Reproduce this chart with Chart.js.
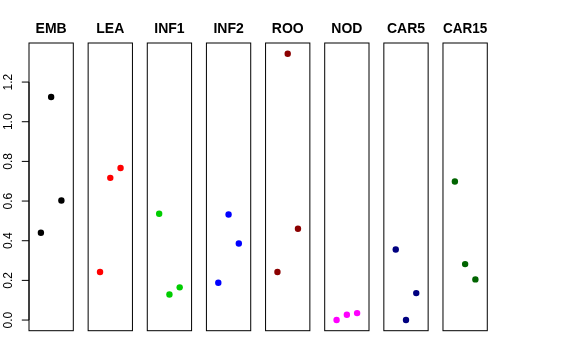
<!DOCTYPE html>
<html>
<head>
<meta charset="utf-8">
<script src="https://cdn.jsdelivr.net/npm/chart.js@4.4.1/dist/chart.umd.min.js"></script>
<style>
  html, body { margin: 0; padding: 0; background: #fff; }
  #wrap { position: relative; width: 576px; height: 360px; overflow: hidden; }
  #wrap canvas { position: absolute; top: 0; }
</style>
</head>
<body>
<div id="wrap"></div>
<script>
// panels and their colours
var categories = ['EMB', 'LEA', 'INF1', 'INF2', 'ROO', 'NOD', 'CAR5', 'CAR15'];
var colors = ['#000000', '#FF0000', '#00CD00', '#0000FF', '#8B0000', '#FF00FF', '#000080', '#006400'];

// three samples per panel, at x = 1, 2, 3
var xPos = [1, 2, 3];
var emb = [0.44, 1.125, 0.603];
var lea = [0.242, 0.717, 0.767];
var inf1 = [0.536, 0.129, 0.165];
var inf2 = [0.188, 0.532, 0.386];
var roo = [0.242, 1.343, 0.46];
var nod = [0.0, 0.027, 0.035];
var car5 = [0.356, 0.0, 0.136];
var car15 = [0.699, 0.282, 0.205];
var values = [emb, lea, inf1, inf2, roo, nod, car5, car15];

var yTicks = [0, 0.2, 0.4, 0.6, 0.8, 1.0, 1.2];
var yTickLabels = ['0.0', '0.2', '0.4', '0.6', '0.8', '1.0', '1.2'];

// layout (pixels)
var W = 576, H = 360;
var panelLeft0 = 29, panelStep = 59.14, panelWidth = 44.3;
var panelTop = 43, panelBottom = 330.7;
var sideMargin = 10;
var fontFam = "'Liberation Sans', Arial, Helvetica, sans-serif";

var boxPlugin = {
  id: 'box',
  beforeDatasetsDraw: function(chart) {
    var a = chart.chartArea, ctx = chart.ctx;
    ctx.save();
    ctx.strokeStyle = '#000';
    ctx.lineWidth = 1;
    ctx.strokeRect(a.left, a.top, a.right - a.left, a.bottom - a.top);
    ctx.restore();
  }
};

var yAxisPlugin = {
  id: 'yAxisR',
  afterDraw: function(chart) {
    var ys = chart.scales.y, ctx = chart.ctx;
    var x0 = chart.chartArea.left;
    ctx.save();
    ctx.strokeStyle = '#000';
    ctx.lineWidth = 1;
    ctx.beginPath();
    ctx.moveTo(x0, ys.getPixelForValue(yTicks[0]));
    ctx.lineTo(x0, ys.getPixelForValue(yTicks[yTicks.length - 1]));
    yTicks.forEach(function(v) {
      var py = ys.getPixelForValue(v);
      ctx.moveTo(x0 - 7.2, py);
      ctx.lineTo(x0, py);
    });
    ctx.stroke();
    ctx.fillStyle = '#000';
    ctx.font = '12px ' + fontFam;
    ctx.textAlign = 'center';
    ctx.textBaseline = 'alphabetic';
    yTicks.forEach(function(v, i) {
      var py = ys.getPixelForValue(v);
      ctx.save();
      ctx.translate(12.3, py);
      ctx.rotate(-Math.PI / 2);
      ctx.fillText(yTickLabels[i], 0, 0);
      ctx.restore();
    });
    ctx.restore();
  }
};

var wrap = document.getElementById('wrap');

categories.forEach(function(cat, i) {
  var left = panelLeft0 + i * panelStep;
  var canvasLeft = i === 0 ? 0 : Math.floor(left) - sideMargin;
  var canvasWidth = Math.ceil(left + panelWidth) + sideMargin - canvasLeft;
  var padLeft = left - canvasLeft;
  var padRight = canvasWidth - padLeft - panelWidth;

  var cv = document.createElement('canvas');
  cv.width = canvasWidth;
  cv.height = H;
  cv.style.left = canvasLeft + 'px';
  cv.style.width = canvasWidth + 'px';
  cv.style.height = H + 'px';
  wrap.appendChild(cv);

  var pts = xPos.map(function(x, j) { return { x: x, y: values[i][j] }; });

  new Chart(cv, {
    type: 'scatter',
    data: {
      datasets: [{
        data: pts,
        backgroundColor: colors[i],
        borderColor: colors[i],
        borderWidth: 0,
        pointRadius: 3.2,
        pointHoverRadius: 3.2
      }]
    },
    options: {
      responsive: false,
      animation: false,
      devicePixelRatio: 1,
      events: [],
      layout: { padding: { left: padLeft, right: padRight, top: 0, bottom: H - panelBottom } },
      scales: {
        x: { type: 'linear', display: false, min: -0.16, max: 4.16 },
        y: { type: 'linear', display: false, min: -0.0537, max: 1.397 }
      },
      plugins: {
        legend: { display: false },
        tooltip: { enabled: false },
        title: {
          display: true,
          text: cat,
          color: '#000',
          font: { family: fontFam, size: 14, weight: 'bold', lineHeight: 1.2 },
          padding: { top: 21, bottom: panelTop - 21 - 16.8 }
        }
      }
    },
    plugins: i === 0 ? [boxPlugin, yAxisPlugin] : [boxPlugin]
  });
});
</script>
</body>
</html>
